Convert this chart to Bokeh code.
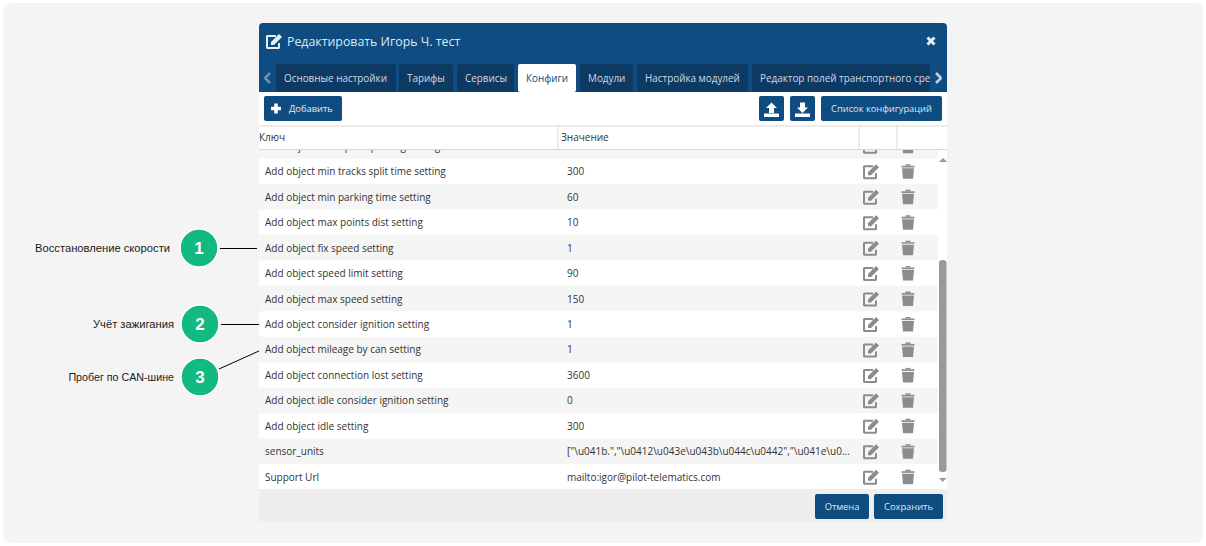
from bokeh.core.properties import value as fixed
from bokeh.embed import file_html
from bokeh.models import ColumnDataSource, Range1d
from bokeh.plotting import figure
from bokeh.resources import INLINE

W, H = 1206, 546
UI_FONT = "Open Sans"
NOTE_FONT = "Liberation Sans"

BLUE = "#0f4c81"
DARK_TAB = "#0d3a63"
GREY_BG = "#f4f4f4"
ROW_ALT = "#f5f5f5"
ICON = "#8c8c8c"
GREEN = "#12b981"

TITLE = "Редактировать Игорь Ч. тест"
TAB_LABELS = ["Основные настройки", "Тарифы", "Сервисы", "Конфиги", "Модули",
              "Настройка модулей", "Редактор полей транспортного сре"]
TAB_LEFT = [276, 399, 457, 518, 580, 637, 752]
TAB_RIGHT = [396, 453, 514, 576, 633, 748, 930]
ACTIVE_TAB = 3

COLUMN_LABELS = ["Ключ", "Значение"]
ROW_KEYS = [
    "Add object max speed parking setting",
    "Add object min tracks split time setting",
    "Add object min parking time setting",
    "Add object max points dist setting",
    "Add object fix speed setting",
    "Add object speed limit setting",
    "Add object max speed setting",
    "Add object consider ignition setting",
    "Add object mileage by can setting",
    "Add object connection lost setting",
    "Add object idle consider ignition setting",
    "Add object idle setting",
    "sensor_units",
    "Support Url",
]
ROW_VALUES = [
    "",
    "300", "60", "10", "1", "90", "150", "1", "1", "3600", "0", "300",
    r'["\u041b.","\u0412\u043e\u043b\u044c\u0442","\u041e\u0...',
    "mailto:igor@pilot-telematics.com",
]

NOTE_LABELS = ["Восстановление скорости", "Учёт зажигания", "Пробег по CAN-шине"]
NOTE_NUMBERS = ["1", "2", "3"]
NOTE_LABEL_RIGHT = [170, 174, 174]
NOTE_LABEL_SIZE = [11.2, 11.2, 10.7]
NOTE_CX = [199, 200, 200]
NOTE_CY = [248, 324, 377]
NOTE_LINE_X = [[220, 257], [221, 259], [219, 259]]
NOTE_LINE_Y = [[248.5, 248.5], [324.5, 324.5], [369, 351]]

BUTTON_LABELS = ["Добавить", "Список конфигураций", "Отмена", "Сохранить"]
BUTTON_LEFT = [264, 821, 815, 874]
BUTTON_RIGHT = [342, 942, 869, 943]
BUTTON_TOP = [96, 96, 494, 494]
BUTTON_BOTTOM = [121, 121, 519, 519]
BUTTON_TEXT_X = [289, 881.5, 842, 908.5]

ROW_TOP = 133.1
ROW_STEP = 25.45

p = figure(width=W, height=H, output_backend="svg", toolbar_location=None,
           x_range=Range1d(0.5, W + 0.5), y_range=Range1d(H + 0.5, 0.5), min_border=0,
           background_fill_color="#ffffff", border_fill_color="#ffffff")
p.axis.visible = False
p.grid.visible = False
p.outline_line_color = None


def box(left, right, top, bottom, color, radius=0, line=None):
    p.quad(left=left, right=right, top=top, bottom=bottom, fill_color=color,
           line_color=line, border_radius=radius)


def label(x, y, text, size, color="#333333", font=UI_FONT, align="left", style="normal"):
    p.text(x=[x], y=[y], text=[text], text_font=fixed(font), text_font_size=f"{size}px",
           text_color=color, text_align=align, text_baseline="middle", text_font_style=style)


def edit_icon(cx, cy, color):
    p.line([cx + 2, cx - 7, cx - 7, cx + 5, cx + 5],
           [cy - 5, cy - 5, cy + 7, cy + 7, cy + 2],
           line_color=color, line_width=2)
    p.patch([cx - 3, cx + 5, cx + 8, cx, cx - 3],
            [cy + 1, cy - 7, cy - 4, cy + 4, cy + 4], fill_color=color, line_color=None)


def trash_icon(cx, cy, color):
    p.patch([cx - 6, cx + 6, cx + 5, cx - 5],
            [cy - 3, cy - 3, cy + 7.5, cy + 7.5], fill_color=color, line_color=None)
    box(cx - 6.5, cx + 6.5, cy - 5.5, cy - 3.8, color)
    box(cx - 2.5, cx + 2.5, cy - 7, cy - 5.5, color)


box(3, 1203, 3, 543, GREY_BG, radius=8)

# dialog frame
box(259, 947, 23, 522, "#eeeeee", radius=4)
box(259, 947, 23, 92, BLUE, radius=4)
box(259, 947, 85, 489, "#ffffff")
box(259, 947, 64, 92, BLUE)
label(287, 41, TITLE, 12.35, color="#dfe8f0")
edit_icon(274, 41, "#e8eef4")
p.multi_line([[927.5, 934.5], [927.5, 934.5]], [[37.5, 44.5], [44.5, 37.5]], line_color="#e8eef4", line_width=3)

# tabs
for i, (name, left, right) in enumerate(zip(TAB_LABELS, TAB_LEFT, TAB_RIGHT)):
    active = i == ACTIVE_TAB
    box(left, right, 64, 92, "#ffffff" if active else DARK_TAB, radius=2)
    label(left + 8, 78, name, 9.9, color=BLUE if active else "#cdd9e4")
box(930, 947, 64, 92, BLUE)
p.multi_line([[270, 265, 270]], [[73, 78, 83]], line_color="#6f8fae", line_width=2.5)
p.multi_line([[936, 941, 936]], [[73, 78, 83]], line_color="#c3d0dc", line_width=2.5)

# rows
for i, (key, val) in enumerate(zip(ROW_KEYS, ROW_VALUES)):
    top = ROW_TOP + i * ROW_STEP
    mid = top + ROW_STEP / 2
    if i % 2 == 0:
        box(259, 938, top, top + ROW_STEP, ROW_ALT)
    label(265, mid, key, 10)
    label(567, mid, val, 10)
    edit_icon(871, mid, ICON)
    trash_icon(908, mid, ICON)

# table head sits over the clipped first row
box(259, 947, 92, 149.5, "#ffffff")
p.multi_line([[259, 947], [259, 947], [558, 558], [859, 859], [897, 897]],
             [[126, 126], [149.5, 149.5], [126, 149], [126, 149], [126, 149]],
             line_color="#d9d9d9", line_width=1)
label(259, 137, COLUMN_LABELS[0], 10)
label(561, 137, COLUMN_LABELS[1], 10)

# scrollbar
box(939, 946.5, 260, 472, "#999999", radius=3)
p.patches([[939, 947, 943], [939, 946.5, 942.75]],
          [[162, 162, 158], [478, 478, 482]], fill_color="#999999", line_color=None)

# buttons
source = ColumnDataSource(dict(left=BUTTON_LEFT, right=BUTTON_RIGHT, top=BUTTON_TOP, bottom=BUTTON_BOTTOM))
p.quad(left="left", right="right", top="top", bottom="bottom", source=source,
       fill_color=BLUE, line_color=None, border_radius=2)
for i, name in enumerate(BUTTON_LABELS):
    if i == 0:
        label(289, 108.5, name, 9.3, color="#e8eef4")
    else:
        label(BUTTON_TEXT_X[i], (BUTTON_TOP[i] + BUTTON_BOTTOM[i]) / 2, name, 9.3,
              color="#dfe8f0", align="center")
p.multi_line([[271, 281], [276, 276]], [[108.5, 108.5], [103.5, 113.5]], line_color="#ffffff", line_width=3.5)

box(759, 784, 96, 121, BLUE, radius=2)
box(790, 815, 96, 121, BLUE, radius=2)
p.patches([[771.5, 777, 774, 774, 769, 769, 766],
           [802.5, 808, 805, 805, 800, 800, 797]],
          [[102.5, 108, 108, 113, 113, 108, 108],
           [113, 107.5, 107.5, 102.5, 102.5, 107.5, 107.5]],
          fill_color="#ffffff", line_color=None)
box(764, 779, 113.5, 117, "#ffffff")
box(795, 810, 113.5, 117, "#ffffff")

# notes on the left
p.multi_line(NOTE_LINE_X, NOTE_LINE_Y, line_color="#000000", line_width=1)
p.scatter(NOTE_CX, NOTE_CY, size=38, fill_color=GREEN, line_color="#ffffff", line_width=1.5)
for name, number, right, size, cx, cy in zip(NOTE_LABELS, NOTE_NUMBERS, NOTE_LABEL_RIGHT, NOTE_LABEL_SIZE, NOTE_CX, NOTE_CY):
    label(right, cy, name, size, color="#1a1a1a", font=NOTE_FONT, align="right")
    label(cx, cy, number, 17, color="#ffffff", font=NOTE_FONT, align="center", style="bold")

open("out.html", "w").write(file_html(p, INLINE))
